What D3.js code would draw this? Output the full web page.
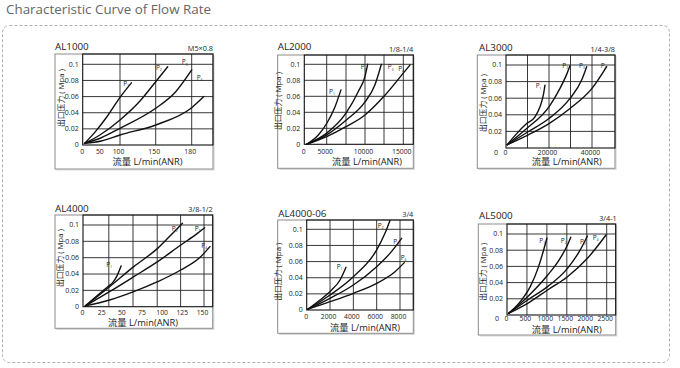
<!DOCTYPE html>
<html><head><meta charset="utf-8">
<script src="https://cdn.jsdelivr.net/npm/d3@7/dist/d3.min.js"></script>
<style>
body{margin:0;background:#fff}
svg{display:block}
text{font-family:"Open Sans","Noto Sans CJK SC",sans-serif}
</style>
</head><body>
<svg id="chart" width="680" height="368"></svg>
<script>
// ---------------- data ----------------
const chartTitle = "Characteristic Curve of Flow Rate";
const panelNames = ["AL1000", "AL2000", "AL3000", "AL4000", "AL4000-06", "AL5000"];
const portSizes = ["M5×0.8", "1/8-1/4", "1/4-3/8", "3/8-1/2", "3/4", "3/4-1"];
const xAxisTitle = "流量 L/min(ANR)";
const yAxisTitle = "出口压力 ( Mpa )";
const yTickValues = [0, 0.02, 0.04, 0.06, 0.08, 0.1];
const yTickLabels = ["0", "0.02", "0.04", "0.06", "0.08", "0.1"];
const curveNames = ["1", "2", "3", "4"];

const xTicksAL1000 = [0, 50, 100, 150, 180];
const xTicksAL2000 = [0, 5000, 10000, 15000];
const xTicksAL3000 = [0, 20000, 40000];
const xTicksAL4000 = [0, 25, 50, 75, 100, 125, 150];
const xTicksAL4000_06 = [0, 2000, 4000, 6000, 8000];
const xTicksAL5000 = [0, 500, 1000, 1500, 2000, 2500];

const xGridAL1000 = [100, 150, 180];
const xGridAL2000 = [5000, 7500, 10000, 12500, 15000];
const xGridAL3000 = [10000, 20000, 30000, 40000];
const xGridAL4000 = [32, 62, 92, 121, 150];
const xGridAL4000_06 = [2000, 4000, 6000, 8000];
const xGridAL5000 = [500, 1000, 1500, 2000, 2500];

const curvesAL1000 = [
  [[5,0.002],[33,0.016],[65,0.035],[100,0.059],[116,0.077]],
  [[5,0.002],[46,0.0124],[100,0.031],[128,0.0545],[150,0.0784],[160,0.097]],
  [[5,0.002],[50,0.009],[100,0.0207],[150,0.0455],[166.5,0.0657],[180,0.093]],
  [[5,0.002],[50,0.005],[100,0.0124],[150,0.0248],[180,0.0462],[190,0.06]]
];
const curvesAL2000 = [
  [[500,0],[3130,0.0117],[5000,0.026],[6000,0.045],[6850,0.068]],
  [[500,0],[5000,0.014],[7500,0.039],[9120,0.066],[10000,0.085],[10350,0.1]],
  [[500,0],[5000,0.0117],[7500,0.03],[10000,0.053],[11300,0.074],[12150,0.1]],
  [[500,0],[5000,0.0096],[7500,0.022],[10000,0.0367],[12500,0.06],[15000,0.089],[15860,0.099]]
];
const curvesAL3000 = [
  [[600,0.004],[4960,0.0173],[9610,0.0294],[13490,0.0375],[15810,0.0496],[17360,0.0637],[18140,0.0758]],
  [[600,0.004],[9610,0.0234],[20000,0.0496],[25120,0.0718],[28220,0.0887],[29770,0.099]],
  [[600,0.004],[9920,0.019],[20000,0.0355],[29770,0.0597],[35190,0.0819],[37520,0.098]],
  [[600,0.004],[9920,0.0153],[20000,0.0294],[29770,0.0476],[40000,0.0718],[46820,0.098]]
];
const curvesAL4000 = [
  [[3,0.001],[18.5,0.0143],[30.8,0.0245],[37,0.0298],[42.3,0.038],[47.3,0.05]],
  [[3,0.001],[32.9,0.0245],[62.9,0.049],[92.5,0.0714],[113,0.0918],[123.3,0.102]],
  [[3,0.001],[32.9,0.0184],[62.9,0.0367],[92.5,0.0551],[121.2,0.0755],[141.8,0.0898],[150.8,0.0967]],
  [[3,0.001],[32.9,0.0082],[62.9,0.0184],[92.5,0.0306],[121.2,0.0449],[145.9,0.0612],[157.4,0.0735]]
];
const curvesAL4000_06 = [
  [[100,0.001],[1140,0.0124],[2140,0.0248],[2860,0.0372],[3370,0.0529]],
  [[100,0.001],[2000,0.0186],[4000,0.0413],[6000,0.0744],[6710,0.095],[7140,0.111]],
  [[100,0.001],[2000,0.0145],[4000,0.031],[6000,0.0537],[7140,0.0702],[8140,0.0888]],
  [[100,0.001],[2000,0.0103],[4000,0.0207],[6000,0.033],[7570,0.0475],[8370,0.0587]]
];
const curvesAL5000 = [
  [[40,0.002],[333,0.0165],[583,0.035],[792,0.0597],[917,0.08],[1000,0.0947]],
  [[40,0.002],[517,0.0226],[1017,0.049],[1333,0.07],[1517,0.0864],[1600,0.0959]],
  [[40,0.002],[517,0.0185],[1017,0.035],[1517,0.0576],[1833,0.08],[2017,0.0975]],
  [[40,0.002],[517,0.0144],[1017,0.0309],[1517,0.0473],[2017,0.07],[2483,0.0988]]
];

// curve label anchors (value coordinates, left edge / vertical centre of "P")
const labelsAL1000 = [[104.6,0.0765],[150.3,0.096],[171.7,0.103],[184.1,0.0836]];
const labelsAL2000 = [[5300,0.0658],[9430,0.0964],[12980,0.0964],[14350,0.095]];
const labelsAL3000 = [[13800,0.0746],[26200,0.0992],[33950,0.0992],[44030,0.0992]];
const labelsAL4000 = [[28.8,0.0518],[110.1,0.0955],[138.5,0.0955],[146.7,0.0747]];
const labelsAL4000_06 = [[2570,0.0541],[6090,0.105],[7430,0.0843],[8060,0.0649]];
const labelsAL5000 = [[808,0.0922],[1350,0.0922],[1833,0.091],[2150,0.0955]];

// ---------------- layout ----------------
const layout = [
  {box:[55,54,213,169], xd:[0,100,150,180,197], xr:[82.7,120,155.7,191.7,212.3], py:[145,64.3],
   title:[55,50], port:[213,50.5], xlab:154, xtitle:[147.5,164.8], ytitle:[63.8,98], zeroRow:false,
   xTicks:xTicksAL1000, xGrid:xGridAL1000, curves:curvesAL1000, labels:labelsAL1000},
  {box:[277.7,55,413.3,168.3], xd:[0,5000,7500,10000,12500,15000,16300], xr:[304.3,326.7,346,365,384,403.3,413.3], py:[144.3,64.3],
   title:[277.7,50], port:[413.3,51.5], xlab:153.5, xtitle:[367,164.8], ytitle:[280.5,101], zeroRow:false,
   xTicks:xTicksAL2000, xGrid:xGridAL2000, curves:curvesAL2000, labels:labelsAL2000},
  {box:[477.3,55,615,168.3], xd:[0,20000], xr:[506,549], py:[148,65],
   title:[479,50.5], port:[615,52], xlab:154.5, xtitle:[566.7,165.3], ytitle:[485.5,103], zeroRow:true,
   xTicks:xTicksAL3000, xGrid:xGridAL3000, curves:curvesAL3000, labels:labelsAL3000},
  {box:[55,215,212.7,328.3], xd:[0,150], xr:[83,204], py:[306.7,225],
   title:[55,211.7], port:[212.7,212.3], xlab:315, xtitle:[143,326.3], ytitle:[63.2,258], zeroRow:false,
   xTicks:xTicksAL4000, xGrid:xGridAL4000, curves:curvesAL4000, labels:labelsAL4000},
  {box:[277.7,220,413.3,333.3], xd:[0,8000], xr:[306.7,400], py:[310,229.3],
   title:[278.3,216.7], port:[413.3,217.3], xlab:319.3, xtitle:[365,330.6], ytitle:[280.5,271.7], zeroRow:false,
   xTicks:xTicksAL4000_06, xGrid:xGridAL4000_06, curves:curvesAL4000_06, labels:labelsAL4000_06},
  {box:[478.3,224,615.7,335], xd:[0,2500], xr:[507,606.7], py:[315,234],
   title:[479,219], port:[616.7,220.7], xlab:320.8, xtitle:[566.7,332.6], ytitle:[485.5,271.7], zeroRow:true,
   xTicks:xTicksAL5000, xGrid:xGridAL5000, curves:curvesAL5000, labels:labelsAL5000}
];

// ---------------- drawing ----------------
const svg = d3.select("#chart");

svg.append("text")
  .attr("x", 6).attr("y", 14)
  .attr("font-size", 13.5).attr("fill", "#666")
  .attr("textLength", 205).attr("lengthAdjust", "spacingAndGlyphs")
  .text(chartTitle);

svg.append("rect")
  .attr("x", 2.5).attr("y", 25.5).attr("width", 667).attr("height", 337)
  .attr("rx", 7).attr("fill", "none")
  .attr("stroke", "#b0b0b0").attr("stroke-width", 1).attr("stroke-dasharray", "3,2");

layout.forEach((L, i) => {
  const g = svg.append("g");
  const x = d3.scaleLinear().domain(L.xd).range(L.xr);
  const y = d3.scaleLinear().domain([0, 0.1]).range(L.py);
  const left = L.xr[0], right = L.box[2], top = L.box[1], bottom = y(0);

  // panel box with soft shadow
  g.append("path")
    .attr("d", `M${L.box[0]+1.5},${L.box[3]+1}H${L.box[2]+1}V${L.box[1]+1.5}`)
    .attr("fill", "none").attr("stroke", "#d8d8d8").attr("stroke-width", 1.2);
  g.append("rect")
    .attr("x", L.box[0]).attr("y", L.box[1])
    .attr("width", L.box[2]-L.box[0]).attr("height", L.box[3]-L.box[1])
    .attr("fill", "none").attr("stroke", "#8c8c8c").attr("stroke-width", 1);

  // grid
  g.selectAll(".hg").data(yTickValues.filter(v => v > 0)).join("line")
    .attr("x1", left).attr("x2", right)
    .attr("y1", d => y(d)).attr("y2", d => y(d))
    .attr("stroke", "#222").attr("stroke-width", 0.9);
  g.selectAll(".vg").data(L.xGrid).join("line")
    .attr("x1", d => x(d)).attr("x2", d => x(d))
    .attr("y1", top).attr("y2", bottom)
    .attr("stroke", "#222").attr("stroke-width", 0.9);

  // plot frame
  g.append("rect")
    .attr("x", left).attr("y", top)
    .attr("width", right-left).attr("height", bottom-top)
    .attr("fill", "none").attr("stroke", "#111").attr("stroke-width", 1.1);

  // y tick labels
  yTickValues.forEach((v, k) => {
    const isZeroRow = (v === 0 && L.zeroRow);
    g.append("text")
      .attr("x", isZeroRow ? left - 8 : left - 4)
      .attr("y", isZeroRow ? L.xlab : y(v))
      .attr("dy", isZeroRow ? 0 : "0.35em")
      .attr("text-anchor", "end")
      .attr("font-size", 7).attr("fill", "#222")
      .text(yTickLabels[k]);
  });

  // x tick labels
  g.selectAll(".xt").data(L.xTicks).join("text")
    .attr("x", d => x(d) - (d === 0 ? 0.5 : 1.5)).attr("y", L.xlab)
    .attr("text-anchor", "middle")
    .attr("font-size", 6.8).attr("fill", "#222")
    .text(d => d);

  // titles
  g.append("text").attr("x", L.title[0]).attr("y", L.title[1])
    .attr("font-size", 9.8).attr("fill", "#222").text(panelNames[i]);
  g.append("text").attr("x", L.port[0]).attr("y", L.port[1])
    .attr("text-anchor", "end")
    .attr("font-size", 7.3).attr("fill", "#222").text(portSizes[i]);
  g.append("text").attr("x", L.xtitle[0]).attr("y", L.xtitle[1])
    .attr("text-anchor", "middle")
    .attr("font-size", 9.3).attr("fill", "#222").text(xAxisTitle);
  g.append("text")
    .attr("transform", `translate(${L.ytitle[0]},${L.ytitle[1]}) rotate(-90)`)
    .attr("text-anchor", "middle")
    .attr("font-size", 7.8).attr("fill", "#222").text(yAxisTitle);

  // curves
  const line = d3.line().x(d => x(d[0])).y(d => y(d[1])).curve(d3.curveMonotoneX);
  g.selectAll(".curve").data(L.curves).join("path")
    .attr("d", line)
    .attr("fill", "none").attr("stroke", "#111").attr("stroke-width", 1.4)
    .attr("stroke-linecap", "round");

  // curve labels
  L.labels.forEach((p, k) => {
    const t = g.append("text")
      .attr("x", x(p[0])).attr("y", y(p[1]))
      .attr("dy", "0.35em")
      .attr("font-size", 6.5).attr("fill", "#222");
    t.append("tspan").text("P");
    t.append("tspan").attr("font-size", 3.2).attr("dy", 1.5).text(curveNames[k]);
  });
});
</script>
</body></html>
